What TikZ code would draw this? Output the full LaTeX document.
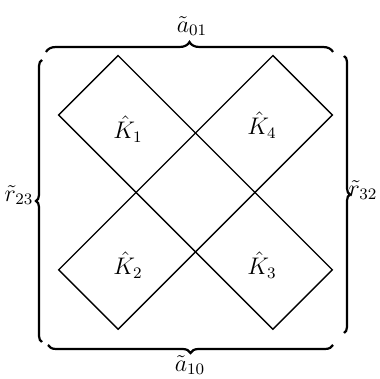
\documentclass[tikz,border=0pt]{standalone}
\usepackage{tikz}
\usetikzlibrary{decorations.pathreplacing, positioning}

\begin{document}
\begin{tikzpicture}[x=0.5pt, y=0.5pt]
    \useasboundingbox (0,0) rectangle (380,379);
    % --- STYLES ---
    \tikzstyle{strip} = [draw=black, line width=0.7pt]
    \tikzstyle{cell} = [font=\large, inner sep=0pt]
    \tikzstyle{side} = [font=\large, inner sep=0pt]
    \tikzstyle{curly} = [decorate, line width=1.1pt, decoration={brace, amplitude=5pt, raise=0pt}]

    % --- STRIPS ---
    \coordinate (mid) at (195.5,186.6);
    \begin{scope}[shift={(mid)}, rotate=-45]
      \draw[strip] (-151.5,-42) rectangle (151.5,42);
    \end{scope}
    \begin{scope}[shift={(mid)}, rotate=45]
      \draw[strip] (-151.5,-42) rectangle (151.5,42);
    \end{scope}

    % --- CELL LABELS ---
    \node (k1) [cell] at (128,250) {$\hat K_1$};
    \node (k4) [cell] at (262,254) {$\hat K_4$};
    \node (k2) [cell] at (128,114) {$\hat K_2$};
    \node (k3) [cell] at (262,114) {$\hat K_3$};

    % --- BRACES ---
    \coordinate (topL) at (46,327);
    \coordinate (topR) at (333,327);
    \coordinate (botL) at (48,34);
    \coordinate (botR) at (333,34);
    \coordinate (lftB) at (42,37);
    \coordinate (lftT) at (42,319);
    \coordinate (rgtB) at (344,46);
    \coordinate (rgtT) at (344,323);

    \draw[curly] (topL) -- (topR);
    \draw[curly, decoration={amplitude=4pt}] (botR) -- (botL);
    \draw[curly, decoration={amplitude=3pt}] (lftB) -- (lftT);
    \draw[curly, decoration={amplitude=3pt}] (rgtT) -- (rgtB);

    % --- SIDE LABELS ---
    \node (a01) [side] at (192,353) {$\tilde a_{01}$};
    \node (a10) [side] at (190,14)  {$\tilde a_{10}$};
    \node (r23) [side] at (19,184)  {$\tilde r_{23}$};
    \node (r32) [side] at (363,189) {$\tilde r_{32}$};
\end{tikzpicture}
\end{document}
